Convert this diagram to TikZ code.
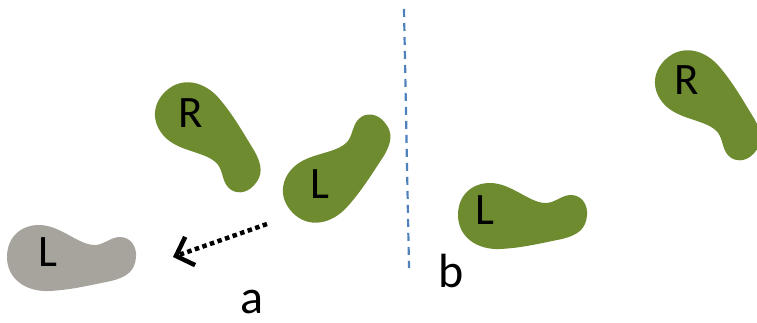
\documentclass[tikz,border=0pt]{standalone}
\usepackage{fontspec}
\setmainfont{Carlito}
\usetikzlibrary{arrows.meta}
\definecolor{beangreen}{RGB}{110,139,48}
\definecolor{beangray}{RGB}{167,164,157}
\definecolor{divblue}{RGB}{79,129,189}
\tikzset{
  pics/bean/.style={code={
    \fill[#1] (-34,0) .. controls (-34,-20) and (-20,-32) .. (-2,-32)
      .. controls (20,-32) and (38,-11) .. (55,-12)
      .. controls (64,-13) and (70,-20) .. (79,-20)
      .. controls (89,-20) and (96,-11) .. (95,0)
      .. controls (94,14) and (86,20) .. (70,24)
      .. controls (50,28) and (30,33) .. (8,34)
      .. controls (-15,35) and (-34,22) .. (-34,0) -- cycle;
  }},
  lbl/.style={inner sep=0pt, font=\fontsize{45}{50}\selectfont, text=black},
  panelcap/.style={inner sep=0pt, font=\fontsize{48}{54}\selectfont, text=black},
  divider/.style={divblue, line width=2.2pt, dash pattern=on 8pt off 6pt},
  moveArrow/.style={line width=4.5pt, dash pattern=on 4.5pt off 3.5pt,
    -{Straight Barb[length=15pt,width=30pt]}}
}
\begin{document}
\begin{tikzpicture}[x=1pt,y=-1pt]
\useasboundingbox (0,0) rectangle (757,322);
% panel a
\begin{scope}[shift={(189,116)}, rotate=-47, yscale=-1]
  \pic[transform shape] {bean=beangreen};
\end{scope}
\begin{scope}[shift={(317,189)}, rotate=45]
  \pic[transform shape] {bean=beangreen};
\end{scope}
\begin{scope}[shift={(41,257)}]
  \pic[transform shape] {bean=beangray};
\end{scope}
% panel b
\begin{scope}[shift={(492,215)}]
  \pic[transform shape] {bean=beangreen};
\end{scope}
\begin{scope}[shift={(689,84)}, rotate=-47, yscale=-1]
  \pic[transform shape] {bean=beangreen};
\end{scope}
% labels
\node[lbl] (Ra) at (191,113) {R};
\node[lbl] (La) at (320,184) {L};
\node[lbl] (Lg) at (48,252) {L};
\node[lbl] (Lb) at (485,210) {L};
\node[lbl] (Rb) at (687,80) {R};
\node[panelcap] (capa) at (252,302) {a};
\node[panelcap] (capb) at (451,271) {b};
% divider
\coordinate (dtop) at (404,9);
\coordinate (dbot) at (409,268);
\draw[divider] (dtop) -- (dbot);
% arrow
\coordinate (as) at (267,224);
\coordinate (ae) at (173,257);
\draw[moveArrow] (as) -- (ae);
\end{tikzpicture}
\end{document}
